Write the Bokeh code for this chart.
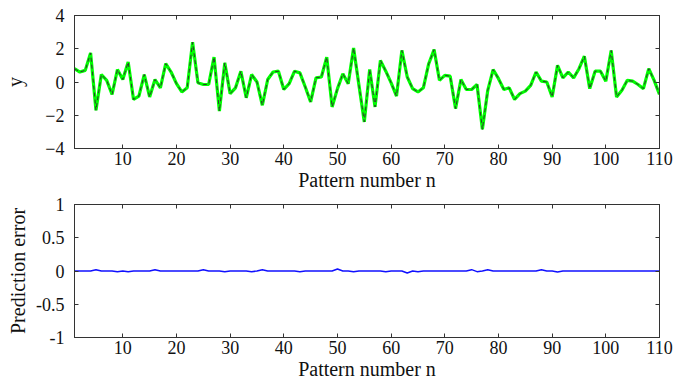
from bokeh.plotting import figure
from bokeh.layouts import column
from bokeh.models import Range1d, FixedTicker, LinearAxis
from bokeh.embed import file_html
from bokeh.resources import INLINE

# ---- data ----
n = list(range(1, 111))
y_values = [
    0.8, 0.6, 0.7, 1.75, -1.7, 0.45, 0.1, -0.75, 0.75, 0.15,
    1.2, -1.05, -0.85, 0.45, -0.9, 0.15, -0.35, 1.1, 0.6, -0.1,
    -0.6, -0.35, 2.4, -0.05, -0.15, -0.15, 1.5, -1.75, 1.15, -0.7,
    -0.35, 0.65, -0.95, 0.45, 0.0, -1.4, 0.15, 0.6, 0.65, -0.45,
    -0.1, 0.65, 0.55, -0.3, -1.2, 0.25, 0.3, 1.5, -1.5, -0.4,
    0.5, -0.1, 2.05, -0.2, -2.4, 0.75, -1.5, 1.3, 0.65, -0.05,
    -0.85, 1.9, 0.3, -0.4, -0.6, -0.35, 1.1, 1.95, 0.1, 0.4,
    0.35, -1.6, 0.15, -0.45, -0.45, -0.15, -2.85, -0.5, 0.75, 0.2,
    -0.45, -0.35, -1.05, -0.7, -0.55, -0.2, 0.6, 0.05, 0.0, -0.9,
    1.0, 0.25, 0.6, 0.25, 0.8, 1.55, -0.4, 0.65, 0.65, 0.05,
    1.9, -0.9, -0.5, 0.1, 0.05, -0.15, -0.4, 0.8, 0.1, -0.75,
]
error_values = [0.0] * 110
for k, v in {5: 0.02, 9: -0.01, 11: -0.01, 16: 0.02, 25: 0.02, 29: -0.01,
             34: -0.01, 36: 0.02, 43: -0.01, 50: 0.03, 53: -0.01, 59: -0.01,
             63: -0.03, 65: -0.01, 75: 0.02, 76: -0.01, 78: 0.02, 88: 0.02,
             91: -0.015}.items():
    error_values[k - 1] = v

x_ticks = [10, 20, 30, 40, 50, 60, 70, 80, 90, 100, 110]
y1_ticks = [-4, -2, 0, 2, 4]
y2_ticks = [-1, -0.5, 0, 0.5, 1]
y2_labels = {-1: "-1", -0.5: "-0.5", 0: "0", 0.5: "0.5", 1: "1"}

FONT = "Liberation Serif"
AX = "#333333"


def style(p, yticks, ylabel, label_standoff, overrides=None):
    p.xgrid.visible = False
    p.ygrid.visible = False
    p.outline_line_color = AX
    p.outline_line_width = 1
    p.background_fill_color = "white"
    p.border_fill_color = "white"
    bottom = p.below[0]
    left = p.left[0]
    right = LinearAxis()
    top = LinearAxis()
    p.add_layout(right, "right")
    p.add_layout(top, "above")
    for ax in (bottom, top):
        ax.ticker = FixedTicker(ticks=x_ticks)
    for ax in (left, right):
        ax.ticker = FixedTicker(ticks=yticks)
    if overrides:
        left.major_label_overrides = overrides
    for ax in (bottom, top, left, right):
        ax.major_tick_in = 4
        ax.major_tick_out = 0
        ax.minor_tick_in = 0
        ax.minor_tick_out = 0
        ax.axis_line_color = AX
        ax.major_tick_line_color = AX
        ax.major_label_text_font = FONT
        ax.major_label_text_font_size = "18px"
        ax.major_label_text_color = "#111111"
        ax.axis_label_text_font = FONT
        ax.axis_label_text_font_size = "20px"
        ax.axis_label_text_font_style = "normal"
        ax.axis_label_text_color = "#111111"
    bottom.major_label_standoff = 3
    bottom.axis_label = "Pattern number n"
    bottom.axis_label_standoff = 1
    left.major_label_standoff = 10
    left.axis_label = ylabel
    left.axis_label_standoff = label_standoff
    top.major_label_overrides = {t: "" for t in x_ticks}
    right.major_label_overrides = {t: "" for t in yticks}
    top.major_label_standoff = 0
    right.major_label_standoff = 0


p1 = figure(width=674, height=195, x_range=Range1d(1, 110), y_range=Range1d(-4, 4),
            output_backend="svg", toolbar_location=None,
            min_border_left=74, min_border_right=15, min_border_top=15, min_border_bottom=47)
p1.line(n, y_values, line_color="#00ff00", line_width=3.2)
p1.line(n, y_values, line_color="#333333", line_width=1, line_dash="4 3")
style(p1, y1_ticks, "y", 16)

p2 = figure(width=674, height=188, x_range=Range1d(1, 110), y_range=Range1d(-1, 1),
            output_backend="svg", toolbar_location=None,
            min_border_left=74, min_border_right=15, min_border_top=9, min_border_bottom=46)
p2.line(n, error_values, line_color="#1010ff", line_width=1.5)
style(p2, y2_ticks, "Prediction error", 4, y2_labels)

layout = column(p1, p2, spacing=0)
open("out.html", "w").write(file_html(layout, INLINE))
